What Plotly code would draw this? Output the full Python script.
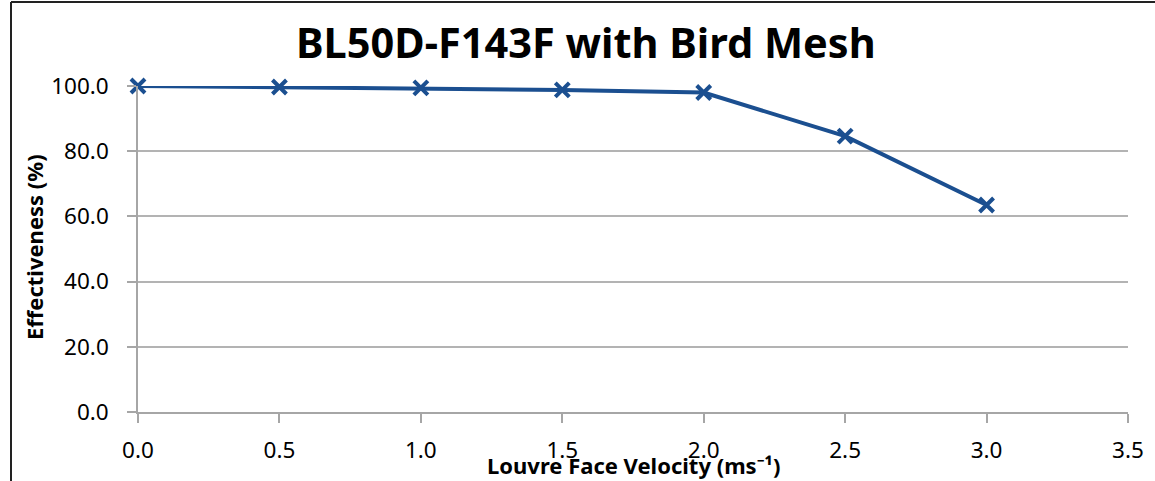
import plotly.graph_objects as go

velocity = [0.0, 0.5, 1.0, 1.5, 2.0, 2.5, 3.0]
effectiveness = [100.0, 99.7, 99.4, 98.8, 98.0, 84.6, 63.5]
x_ticks = [0.0, 0.5, 1.0, 1.5, 2.0, 2.5, 3.0, 3.5]
y_ticks = [0, 20, 40, 60, 80, 100]

W, H = 1155, 481
L, R, T, B = 138, 27, 86, 69
pw, ph = W - L - R, H - T - B

font = "Noto Sans"
fig = go.Figure()
fig.add_trace(go.Scatter(
    x=velocity, y=effectiveness, mode="lines+markers",
    line=dict(color="#1b4f90", width=4),
    marker=dict(symbol="x-thin", size=14, line=dict(color="#1b4f90", width=4)),
    showlegend=False, cliponaxis=False,
))

def px(xp):
    return (xp - L) / pw

def py(yp):
    return (H - B - yp) / ph

fig.update_layout(
    width=W, height=H,
    margin=dict(l=L, r=R, t=T, b=B),
    paper_bgcolor="white", plot_bgcolor="white",
    font=dict(family=font, color="#000000"),
    xaxis=dict(range=[0, 3.5], tickvals=x_ticks, ticktext=[f"{v:.1f}" for v in x_ticks],
               showgrid=False, zeroline=False, showline=True, linecolor="#a6a6a6", linewidth=1.5,
               ticks="outside", ticklen=9, tickcolor="#a6a6a6", tickwidth=1.5,
               tickfont=dict(size=22.5, family=font), ticklabelstandoff=8),
    yaxis=dict(range=[0, 100], tickvals=y_ticks, ticktext=[f"{v:.1f}" for v in y_ticks],
               showgrid=True, gridcolor="#b3b3b3", gridwidth=1.5, zeroline=False,
               showline=True, linecolor="#a6a6a6", linewidth=1.5,
               ticks="outside", ticklen=9, tickcolor="#a6a6a6", tickwidth=1.5,
               tickfont=dict(size=22.5, family=font), ticklabelstandoff=14),
    annotations=[
        dict(text="<b>BL50D-F143F with Bird Mesh</b>", x=px(586), y=py(42), xref="paper", yref="paper",
             showarrow=False, font=dict(size=41.5, family=font), xanchor="center", yanchor="middle"),
        dict(text="<b>Effectiveness (%)</b>", x=px(34), y=py(247), xref="paper", yref="paper",
             showarrow=False, textangle=-90, font=dict(size=22, family=font), xanchor="center", yanchor="middle"),
        dict(text="<b>Louvre Face Velocity (ms⁻¹)</b>", x=px(633), y=py(465), xref="paper", yref="paper",
             showarrow=False, font=dict(size=22, family=font), xanchor="center", yanchor="middle"),
    ],
    shapes=[
        dict(type="line", xref="paper", yref="paper", x0=px(11), x1=px(11), y0=py(2), y1=py(490),
             line=dict(color="#222222", width=2)),
        dict(type="line", xref="paper", yref="paper", x0=px(11), x1=px(1165), y0=py(2), y1=py(2),
             line=dict(color="#222222", width=2)),
    ],
)
fig.write_html("out.html", config={"displayModeBar": False},
               post_script="document.body.style.margin='0px';document.body.style.overflow='hidden';")
